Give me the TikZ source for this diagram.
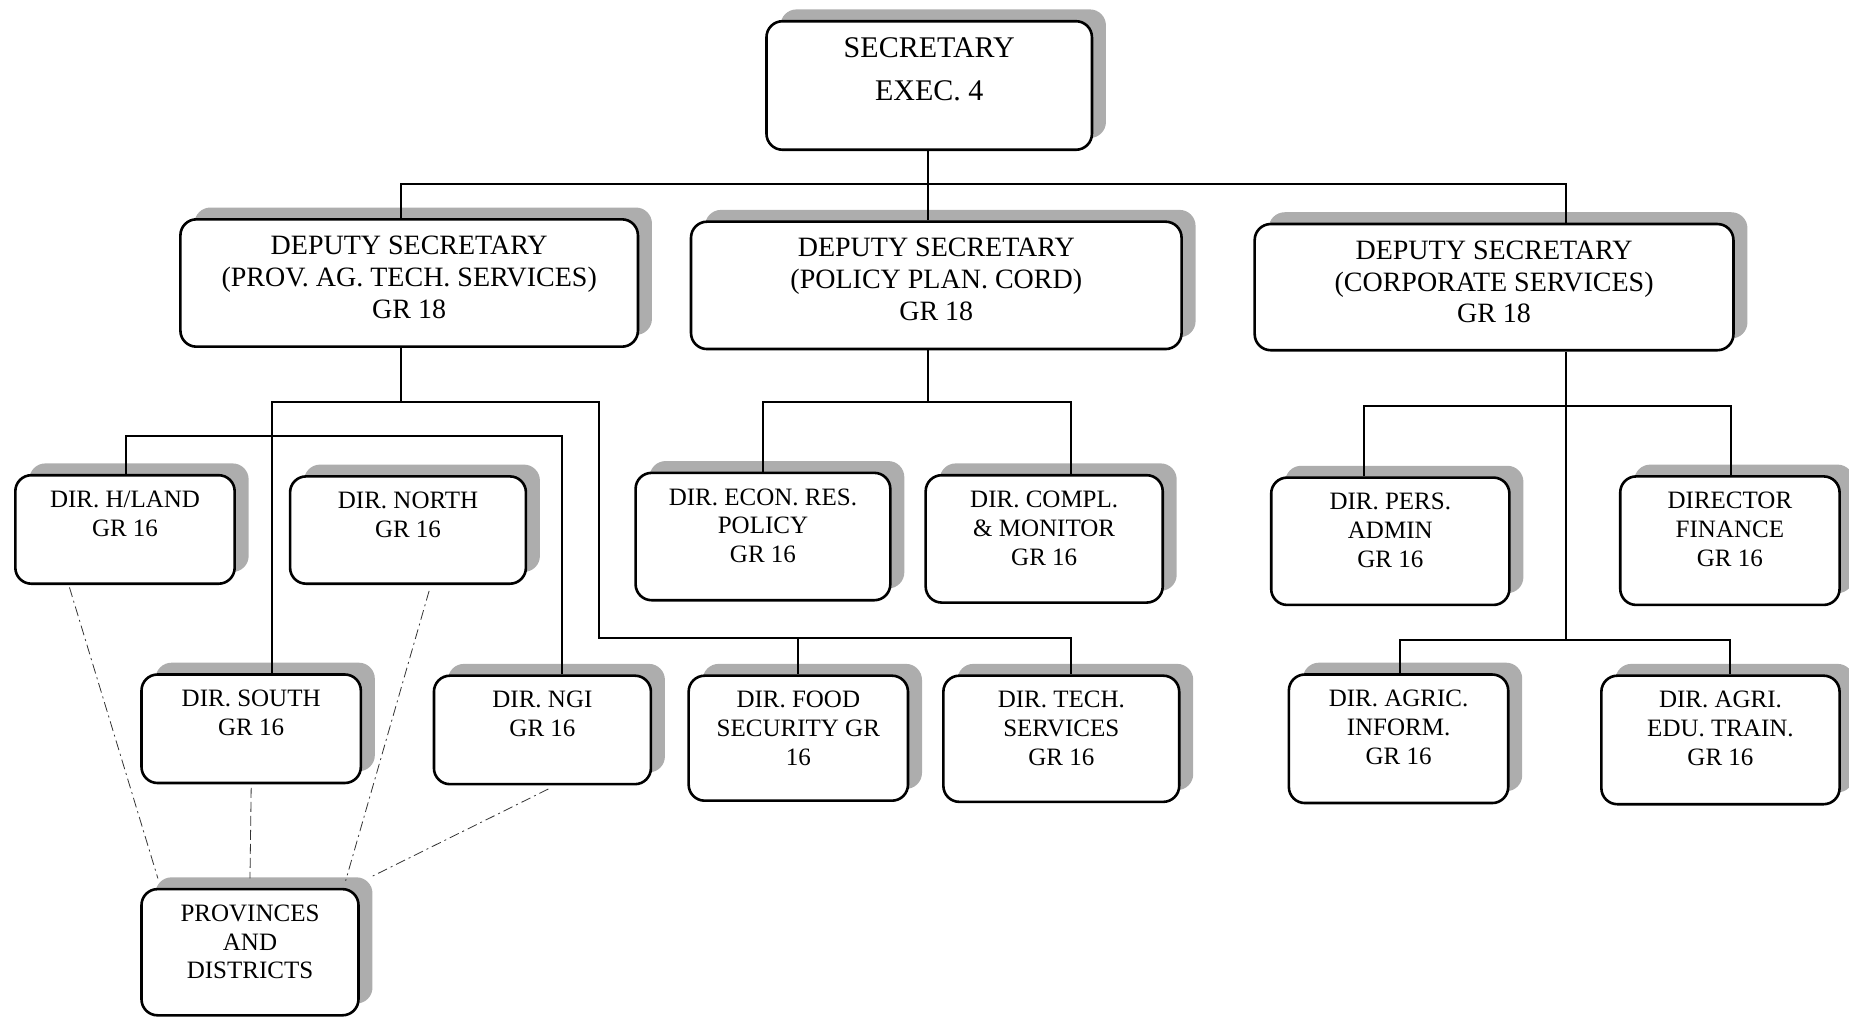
\documentclass[tikz,border=0pt]{standalone}
\usepackage{fontspec}
\setmainfont{Liberation Serif}
\usetikzlibrary{fit,shadows,calc}
\begin{document}
\begin{tikzpicture}[x=0.5896pt,y=-0.5896pt,
  box/.style={draw=black, line width=1.3pt, rounded corners=8pt, fill=white, inner sep=0pt,
     general shadow={shadow xshift=7pt, shadow yshift=5.9pt, fill=black!32}},
  conn/.style={draw=black, line width=1pt},
  dl/.style={draw=black!80, line width=0.4pt, dash pattern=on 5pt off 2pt on 1pt off 2pt},
  dld/.style={draw=black!80, line width=0.4pt, dash pattern=on 5pt off 2pt},
  dept/.style={font=\fontsize{14}{15.9}\selectfont, align=center, inner sep=0pt, anchor=north},
  dir/.style={font=\fontsize{12.5}{14.4}\selectfont, align=center, inner sep=0pt, anchor=north},
  secf/.style={font=\fontsize{15}{21.8}\selectfont, align=center, inner sep=0pt, anchor=north}]
\useasboundingbox (0,0) rectangle (1568,863);

% ---- boxes ----
\node[box, fit={(650,18) (926,127)}] (sec) {};
\node[secf] (sec-t) at ([yshift=-8.6pt]sec.north) {SECRETARY\\EXEC. 4};

\node[box, fit={(153,186) (541,294)}] (d1) {};
\node[dept] (d1-t) at ([yshift=-8.8pt]d1.north) {DEPUTY SECRETARY\\(PROV. AG. TECH. SERVICES)\\GR 18};
\node[box, fit={(586,188) (1002,296)}] (d2) {};
\node[dept] (d2-t) at ([yshift=-8.8pt]d2.north) {DEPUTY SECRETARY\\(POLICY PLAN. CORD)\\GR 18};
\node[box, fit={(1064,190) (1470,297)}] (d3) {};
\node[dept] (d3-t) at ([yshift=-8.8pt]d3.north) {DEPUTY SECRETARY\\(CORPORATE SERVICES)\\GR 18};

\node[box, fit={(13,403) (199,495)}] (hland) {};
\node[dir] (hland-t) at ([yshift=-8.3pt]hland.north) {DIR. H/LAND\\GR 16};
\node[box, fit={(246,404) (446,495)}] (north) {};
\node[dir] (north-t) at ([yshift=-8.3pt]north.north) {DIR. NORTH\\GR 16};
\node[box, fit={(120,572) (306,664)}] (south) {};
\node[dir] (south-t) at ([yshift=-8.3pt]south.north) {DIR. SOUTH\\GR 16};
\node[box, fit={(368,573) (552,665)}] (ngi) {};
\node[dir] (ngi-t) at ([yshift=-8.3pt]ngi.north) {DIR. NGI\\GR 16};

\node[box, fit={(539,401) (755,509)}] (econ) {};
\node[dir] (econ-t) at ([yshift=-8.3pt]econ.north) {DIR. ECON. RES.\\POLICY\\GR 16};
\node[box, fit={(785,403) (986,511)}] (compl) {};
\node[dir] (compl-t) at ([yshift=-8.3pt]compl.north) {DIR. COMPL.\\\& MONITOR\\GR 16};
\node[box, fit={(584,573) (770,679)}] (food) {};
\node[dir] (food-t) at ([yshift=-8.3pt]food.north) {DIR. FOOD\\SECURITY GR\\16};
\node[box, fit={(800,573) (1000,680)}] (tech) {};
\node[dir] (tech-t) at ([yshift=-8.3pt]tech.north) {DIR. TECH.\\SERVICES\\GR 16};

\node[box, fit={(1078,405) (1280,513)}] (pers) {};
\node[dir] (pers-t) at ([yshift=-8.3pt]pers.north) {DIR. PERS.\\ADMIN\\GR 16};
\node[box, fit={(1374,404) (1560,513)}] (fin) {};
\node[dir] (fin-t) at ([yshift=-8.3pt]fin.north) {DIRECTOR\\FINANCE\\GR 16};
\node[box, fit={(1093,572) (1279,681)}] (agric) {};
\node[dir] (agric-t) at ([yshift=-8.3pt]agric.north) {DIR. AGRIC.\\INFORM.\\GR 16};
\node[box, fit={(1358,573) (1560,682)}] (edu) {};
\node[dir] (edu-t) at ([yshift=-8.3pt]edu.north) {DIR. AGRI.\\EDU. TRAIN.\\GR 16};

\node[box, fit={(120,754) (304,861)}] (prov) {};
\node[dir] (prov-t) at ([yshift=-8.3pt]prov.north) {PROVINCES\\AND\\DISTRICTS};

% ---- connectors ----
\coordinate (b0) at (787,156);
\coordinate (bL) at (340,156);
\coordinate (bR) at (1328,156);
\draw[conn] (sec.south -| b0) -- (d2.north -| b0);
\draw[conn] (d1.north -| bL) -- (bL) -- (bR) -- (d3.north -| bR);

\coordinate (j1) at (340,341);
\coordinate (j1a) at (231,341);
\coordinate (j1b) at (508,341);
\coordinate (j1c) at (508,541);
\coordinate (j1d) at (908,541);
\coordinate (jf) at (677,541);
\draw[conn] (d1.south -| j1) -- (j1);
\draw[conn] (south.north -| j1a) -- (j1a) -- (j1b) -- (j1c) -- (j1d) -- (tech.north -| j1d);
\draw[conn] (jf) -- (food.north -| jf);
\coordinate (k1) at (107,370);
\coordinate (k2) at (477,370);
\draw[conn] (hland.north -| k1) -- (k1) -- (k2) -- (ngi.north -| k2);

\coordinate (m0) at (787,341);
\coordinate (m1) at (647,341);
\coordinate (m2) at (908,341);
\draw[conn] (d2.south -| m0) -- (m0);
\draw[conn] (econ.north -| m1) -- (m1) -- (m2) -- (compl.north -| m2);

\coordinate (n0) at (1328,543);
\coordinate (n1) at (1157,344);
\coordinate (n2) at (1468,344);
\coordinate (n3) at (1187,543);
\coordinate (n4) at (1467,543);
\draw[conn] (d3.south -| n0) -- (n0);
\draw[conn] (pers.north -| n1) -- (n1) -- (n2) -- (fin.north -| n2);
\draw[conn] (agric.north -| n3) -- (n3) -- (n4) -- (edu.north -| n4);

% ---- dashed links to provinces ----
\draw[dl] ($(hland.south west)+(47,2)$) -- ($(prov.north west)+(15,-8)$);
\draw[dl] ($(north.south west)+(119,5)$) -- ($(prov.north east)+(-12,-6)$);
\draw[dld] ($(south.south)+(0,3)$) -- ($(prov.north)+(0,-8)$);
\draw[dl] ($(ngi.south)+(5,3)$) -- ($(prov.north east)+(11,-10)$);
\end{tikzpicture}
\end{document}
